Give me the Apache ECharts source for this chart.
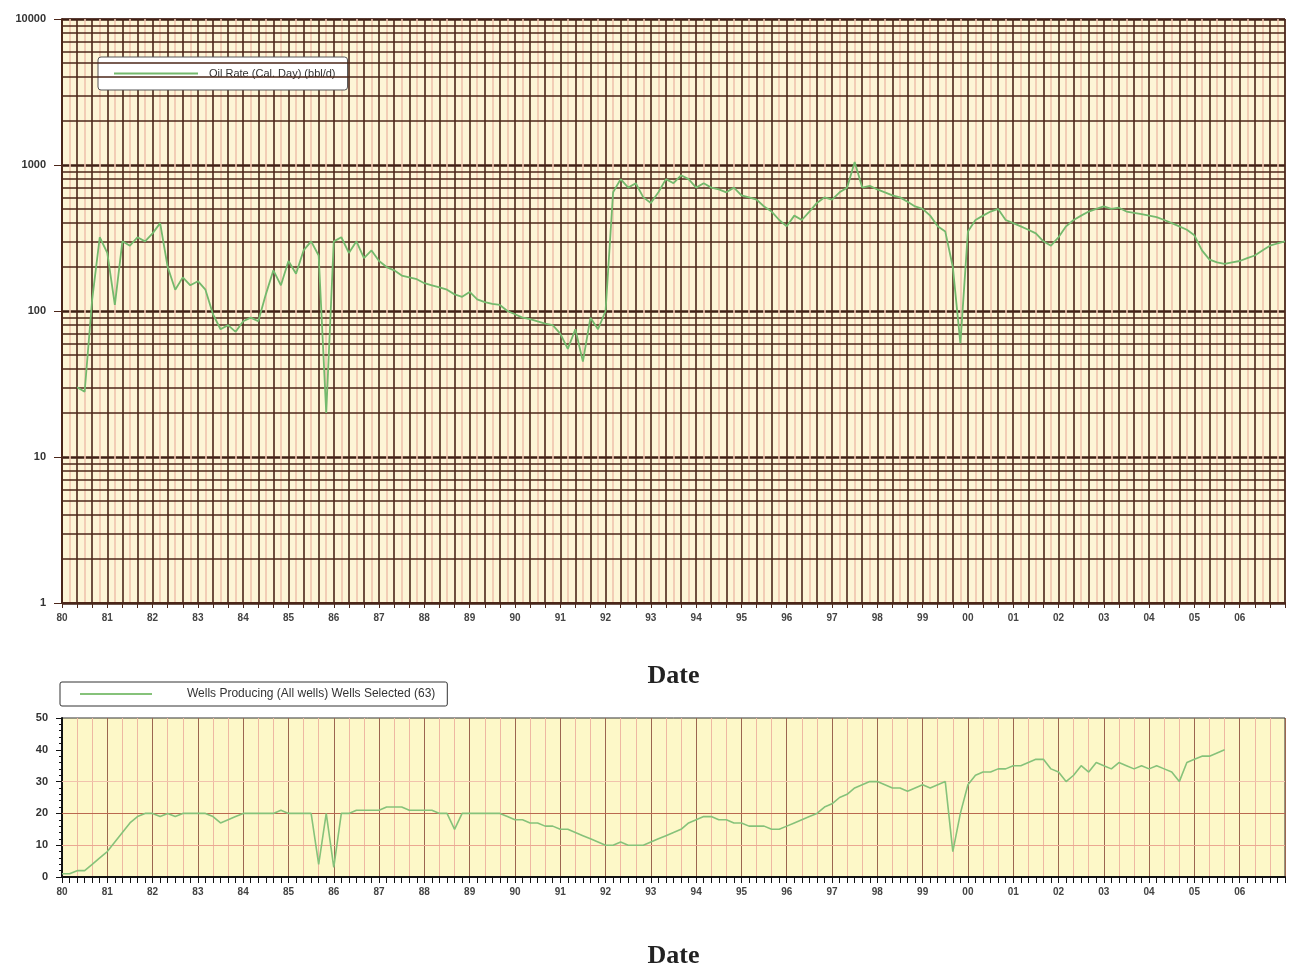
<!DOCTYPE html>
<html>
<head>
<meta charset="utf-8">
<script src="https://cdn.jsdelivr.net/npm/echarts@6/dist/echarts.min.js"></script>
<style>
  html, body { margin: 0; padding: 0; background: #ffffff; }
  #chart { width: 1295px; height: 970px; }
</style>
</head>
<body>
<div id="chart"></div>
<script>
// tick labels along the date axis (one every 6 samples)
const xLabels = ["80", "81", "82", "83", "84", "85", "86", "87", "88", "89", "90", "91", "92", "93",
  "94", "95", "96", "97", "98", "99", "00", "01", "02", "03", "04", "05", "06"];

// oil rate, bbl/d (log scale)
const oilRate = [
  null, null, 30, 28, 120, 320, 250, 110, 300, 280,
  320, 300, 340, 400, 200, 140, 170, 150, 160, 140,
  95, 75, 80, 72, 85, 90, 85, 130, 190, 150,
  220, 180, 260, 300, 240, 20, 300, 320, 250, 300,
  230, 260, 220, 200, 190, 175, 170, 165, 155, 150,
  145, 140, 130, 125, 135, 120, 115, 112, 110, 100,
  95, 90, 88, 85, 82, 80, 70, 55, 75, 45,
  90, 75, 100, 650, 800, 700, 750, 600, 550, 650,
  800, 750, 850, 800, 700, 750, 700, 680, 650, 700,
  620, 600, 580, 520, 480, 420, 380, 450, 420, 480,
  550, 600, 580, 650, 700, 1050, 700, 720, 680, 650,
  620, 600, 560, 520, 500, 450, 380, 350, 200, 60,
  350, 420, 450, 480, 500, 420, 400, 380, 360, 340,
  300, 280, 320, 380, 420, 450, 480, 500, 520, 500,
  510, 480, 470, 460, 450, 440, 420, 400, 380, 360,
  330, 260, 225, 215, 210, 215, 220, 230, 240, 260,
  280, 290, 300
];

// wells producing
const wellsProducing = [
  1, 1, 2, 2, 4, 6, 8, 11, 14, 17,
  19, 20, 20, 19, 20, 19, 20, 20, 20, 20,
  19, 17, 18, 19, 20, 20, 20, 20, 20, 21,
  20, 20, 20, 20, 4, 20, 3, 20, 20, 21,
  21, 21, 21, 22, 22, 22, 21, 21, 21, 21,
  20, 20, 15, 20, 20, 20, 20, 20, 20, 19,
  18, 18, 17, 17, 16, 16, 15, 15, 14, 13,
  12, 11, 10, 10, 11, 10, 10, 10, 11, 12,
  13, 14, 15, 17, 18, 19, 19, 18, 18, 17,
  17, 16, 16, 16, 15, 15, 16, 17, 18, 19,
  20, 22, 23, 25, 26, 28, 29, 30, 30, 29,
  28, 28, 27, 28, 29, 28, 29, 30, 8, 20,
  29, 32, 33, 33, 34, 34, 35, 35, 36, 37,
  37, 34, 33, 30, 32, 35, 33, 36, 35, 34,
  36, 35, 34, 35, 34, 35, 34, 33, 30, 36,
  37, 38, 38, 39, 40, null, null, null, null, null,
  null, null, null
];

// log-paper minor lines between the decades
const logMinorLines = [2, 3, 4, 5, 6, 7, 8, 9, 20, 30, 40, 50, 60, 70, 80, 90,
  200, 300, 400, 500, 600, 700, 800, 900, 2000, 3000, 4000, 5000, 6000, 7000, 8000, 9000];
const wellsLines = [10, 20, 30];
const wellsLineColors = ["#eba892", "#b9694f", "#f1c3ad"];

const categories = oilRate.map((_, i) => String(i));
const oilName = "Oil Rate (Cal. Day) (bbl/d)";
const wellsName = "Wells Producing (All wells) Wells Selected (63)";

const brown = "#4b2619";
const labelFont = { fontFamily: "Liberation Sans", fontSize: 10, color: "#444", fontWeight: "bold" };
const dateName = { fontFamily: "Liberation Serif", fontSize: 26, fontWeight: "bold", color: "#222" };

const chart = echarts.init(document.getElementById("chart"));

chart.setOption({
  animation: false,
  legend: [
    {
      data: [oilName],
      left: 98,
      top: 57,
      icon: "rect",
      backgroundColor: "#ffffff",
      borderColor: "#555",
      borderWidth: 1,
      borderRadius: 3,
      padding: [11, 12, 11, 16],
      itemWidth: 84,
      itemHeight: 2,
      itemGap: 0,
      textStyle: { fontFamily: "Liberation Sans", fontSize: 11, color: "#333", padding: [0, 0, 0, 6] },
    },
    {
      data: [wellsName],
      left: 60,
      top: 682,
      icon: "rect",
      backgroundColor: "#ffffff",
      borderColor: "#333",
      borderWidth: 1,
      borderRadius: 2,
      padding: [6, 12, 6, 20],
      itemWidth: 72,
      itemHeight: 2,
      textStyle: { fontFamily: "Liberation Sans", fontSize: 12, color: "#333", padding: [0, 0, 0, 30] },
    },
  ],
  grid: [
    { left: 62, right: 10, top: 19, height: 584, show: true, backgroundColor: "#fdf5d6", borderColor: "#5a2f20", borderWidth: 1 },
    { left: 62, right: 10, top: 718, height: 169, show: true, backgroundColor: "#fdf8c8", borderColor: "#333", borderWidth: 1 },
  ],
  xAxis: [
    {
      gridIndex: 0,
      type: "category",
      data: categories,
      boundaryGap: false,
      axisLine: { lineStyle: { color: brown, width: 2 } },
      axisTick: { interval: 1, length: 5, lineStyle: { color: brown } },
      axisLabel: { ...labelFont, interval: 5, margin: 10, formatter: (v) => xLabels[Number(v) / 6] || "" },
      splitLine: { show: true, interval: 0, lineStyle: { color: [brown, "#efc3ad"], width: 1.6 } },
      name: "Date",
      nameLocation: "middle",
      nameGap: 60,
      nameTextStyle: dateName,
    },
    {
      gridIndex: 1,
      type: "category",
      data: categories,
      boundaryGap: false,
      axisLine: { lineStyle: { color: "#111", width: 2 } },
      axisTick: { interval: 0, length: 6, lineStyle: { color: "#111" } },
      axisLabel: { ...labelFont, interval: 5, margin: 10, formatter: (v) => xLabels[Number(v) / 6] || "" },
      splitLine: { show: true, interval: 1, lineStyle: { color: ["#9c6650", "#eeb8a2", "#eeb8a2"], width: 1 } },
      name: "Date",
      nameLocation: "middle",
      nameGap: 66,
      nameTextStyle: dateName,
    },
  ],
  yAxis: [
    {
      gridIndex: 0,
      type: "log",
      logBase: 10,
      min: 1,
      max: 10000,
      axisLine: { show: true, lineStyle: { color: brown, width: 2 } },
      axisTick: { show: true, length: 8, lineStyle: { color: brown } },
      axisLabel: { ...labelFont, fontSize: 11, color: "#333", margin: 16, formatter: (v) => String(Math.round(v)) },
      splitLine: { show: true, lineStyle: { color: "#3e1f14", width: 2.5 } },
    },
    {
      gridIndex: 1,
      type: "value",
      min: 0,
      max: 50,
      interval: 10,
      axisLine: { show: true, lineStyle: { color: "#111", width: 2 } },
      axisTick: { show: true, length: 6, lineStyle: { color: "#111" } },
      minorTick: { show: true, splitNumber: 5, length: 3, lineStyle: { color: "#111" } },
      axisLabel: { ...labelFont, fontSize: 11, color: "#333", margin: 14 },
      splitLine: { show: false },
    },
  ],
  series: [
    {
      type: "line",
      xAxisIndex: 0,
      yAxisIndex: 0,
      data: [],
      silent: true,
      z: 1,
      markLine: {
        silent: true,
        symbol: ["none", "none"],
        label: { show: false },
        lineStyle: { color: brown, width: 1.6, type: "solid" },
        data: logMinorLines.map((v) => ({ yAxis: v })),
      },
    },
    {
      name: oilName,
      type: "line",
      xAxisIndex: 0,
      yAxisIndex: 0,
      data: oilRate,
      symbol: "none",
      z: 5,
      lineStyle: { color: "#74b96c", width: 1.8 },
      itemStyle: { color: "#74b96c" },
    },
    {
      type: "line",
      xAxisIndex: 1,
      yAxisIndex: 1,
      data: [],
      silent: true,
      z: 1,
      markLine: {
        silent: true,
        symbol: ["none", "none"],
        label: { show: false },
        data: wellsLines.map((v, i) => ({ yAxis: v, lineStyle: { color: wellsLineColors[i], width: 1.2, type: "solid" } })),
      },
    },
    {
      name: wellsName,
      type: "line",
      xAxisIndex: 1,
      yAxisIndex: 1,
      data: wellsProducing,
      symbol: "none",
      z: 5,
      lineStyle: { color: "#86c27a", width: 1.6 },
      itemStyle: { color: "#86c27a" },
    },
  ],
});
</script>
</body>
</html>
